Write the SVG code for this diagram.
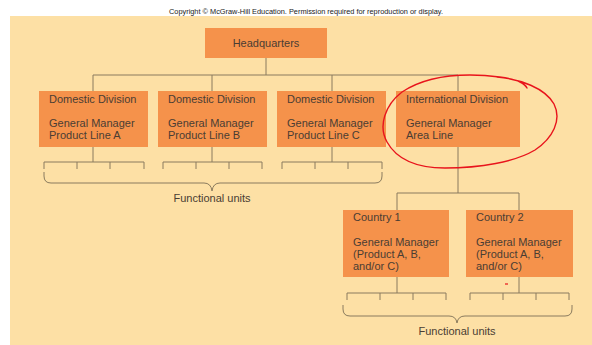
<svg xmlns="http://www.w3.org/2000/svg" width="592" height="345" viewBox="0 0 592 345">
<style>
.box{fill:#F5924B}
.t{font-family:"Liberation Sans",Arial,sans-serif;font-size:11px;fill:#4a3d33}
.ln{fill:none;stroke:#8a7b5e;stroke-width:1}
.red{fill:none;stroke:#e8141c;stroke-width:1.4;stroke-linecap:round}
</style>
<rect x="0" y="0" width="592" height="345" fill="#ffffff"/>
<text x="306" y="14" text-anchor="middle" font-family="'Liberation Sans',Arial,sans-serif" font-size="6.8" fill="#222" textLength="274" lengthAdjust="spacingAndGlyphs">Copyright © McGraw-Hill Education. Permission required for reproduction or display.</text>
<rect x="10" y="16" width="582" height="329" fill="#FDE0A5"/>

<g id="connectors" class="ln">
<path d="M266,58 V75 M93,75 H458 M93,75 V91 M212,75 V91 M332,75 V91 M458,75 V91"/>
<path d="M93,147 V162 M44,169 V162 H144 V169 M77,162 V169 M110,162 V169"/>
<path d="M212,147 V162 M163,169 V162 H262 V169 M196,162 V169 M229,162 V169"/>
<path d="M332,147 V162 M282,169 V162 H382 V169 M315,162 V169 M348,162 V169"/>
<path d="M44,172 V176 Q44,183 51,183 H204 Q211,183 212,191 Q213,183 220,183 H375 Q382,183 382,176 V172"/>
<path d="M458,147 V193 M397,193 H519 M397,193 V210 M519,193 V210"/>
<path d="M397,277 V293 M347,300 V293 H446 V300 M380,293 V300 M413,293 V300"/>
<path d="M519,277 V293 M470,300 V293 H569 V300 M503,293 V300 M536,293 V300"/>
<path d="M343,305 V309 Q343,316 350,316 H449 Q456,316 457,323 Q458,316 465,316 H565 Q572,316 572,309 V305"/>
</g>

<g id="hq">
<rect class="box" x="205" y="28" width="122" height="30"/>
<text class="t" x="266" y="47" text-anchor="middle">Headquarters</text>
</g>
<g id="domA">
<rect class="box" x="39" y="91" width="109" height="56"/>
<text class="t" x="49" y="103">Domestic Division</text>
<text class="t" x="49" y="127">General Manager</text>
<text class="t" x="49" y="139">Product Line A</text>
</g>
<g id="domB">
<rect class="box" x="158" y="91" width="109" height="56"/>
<text class="t" x="168" y="103">Domestic Division</text>
<text class="t" x="168" y="127">General Manager</text>
<text class="t" x="168" y="139">Product Line B</text>
</g>
<g id="domC">
<rect class="box" x="277" y="91" width="109" height="56"/>
<text class="t" x="287" y="103">Domestic Division</text>
<text class="t" x="287" y="127">General Manager</text>
<text class="t" x="287" y="139">Product Line C</text>
</g>
<g id="intl">
<rect class="box" x="396" y="91" width="124" height="56"/>
<text class="t" x="406" y="103">International Division</text>
<text class="t" x="406" y="127">General Manager</text>
<text class="t" x="406" y="139">Area Line</text>
</g>
<g id="country1">
<rect class="box" x="343" y="210" width="106" height="67"/>
<text class="t" x="353" y="221">Country 1</text>
<text class="t" x="353" y="246">General Manager</text>
<text class="t" x="353" y="258">(Product A, B,</text>
<text class="t" x="353" y="270">and/or C)</text>
</g>
<g id="country2">
<rect class="box" x="466" y="210" width="107" height="67"/>
<text class="t" x="476" y="221">Country 2</text>
<text class="t" x="476" y="246">General Manager</text>
<text class="t" x="476" y="258">(Product A, B,</text>
<text class="t" x="476" y="270">and/or C)</text>
</g>
<g id="fu1"><text class="t" x="212" y="202" text-anchor="middle">Functional units</text></g>
<g id="fu2"><text class="t" x="457" y="335" text-anchor="middle">Functional units</text></g>

<g id="annotation">
<path class="red" d="M497,77 C520,79 545,88 554,104 C562,120 553,138 535,150 C515,162 480,168 445,168 C415,168 396,158 387,142 C378,126 385,105 402,92 C420,80 445,75 470,75 C490,75 512,78 520,82 C524,84 526,86 527,88"/>
<path d="M505,284 H508" stroke="#e8141c" stroke-width="1.2"/>
</g>
</svg>
